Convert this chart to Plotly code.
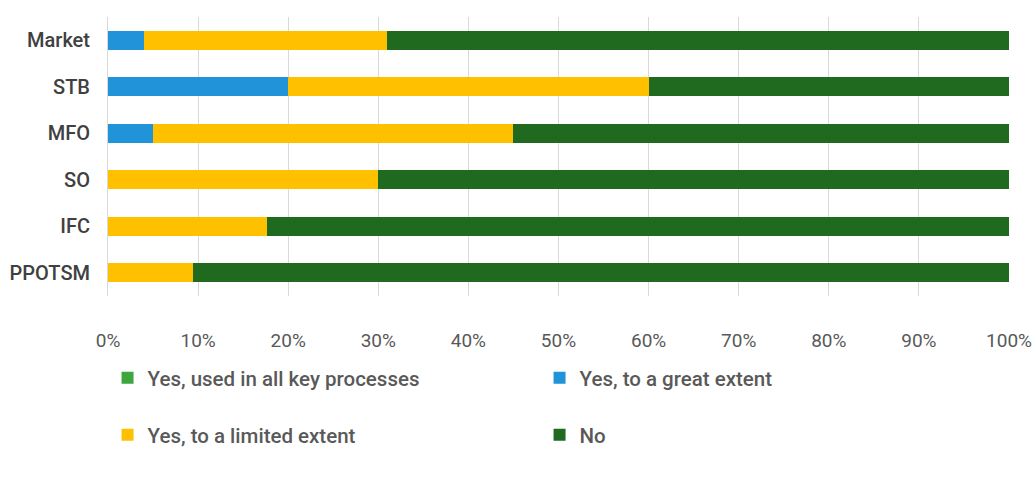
import plotly.graph_objects as go

# Survey results by segment (percent of respondents)
categories = ["Market", "STB", "MFO", "SO", "IFC", "PPOTSM"]
all_key_processes = [0, 0, 0, 0, 0, 0]
great_extent = [4, 20, 5, 0, 0, 0]
limited_extent = [27, 40, 40, 30, 17.6, 9.4]
no_use = [69, 40, 55, 70, 82.4, 90.6]
x_ticks = [0, 10, 20, 30, 40, 50, 60, 70, 80, 90, 100]
x_tick_labels = [f"{t}%" for t in x_ticks]

FONT = "Roboto, Liberation Sans, sans-serif"
TEXT = "#595959"

series = [
    ("Yes, used in all key processes", all_key_processes, "#3da63d", "legend"),
    ("Yes, to a great extent", great_extent, "#2193d8", "legend"),
    ("Yes, to a limited extent", limited_extent, "#ffc000", "legend2"),
    ("No", no_use, "#1f6a1f", "legend2"),
]

fig = go.Figure()
for name, vals, color, lg in series:
    fig.add_trace(go.Bar(
        y=categories, x=vals, name=name, orientation="h",
        marker=dict(color=color, line=dict(width=0)),
        legend=lg,
    ))

legend_common = dict(
    orientation="h", xanchor="left", yanchor="middle",
    font=dict(family=FONT, size=20.5, color=TEXT, weight=500),
    entrywidth=387, entrywidthmode="pixels",
    itemwidth=30, bgcolor="rgba(0,0,0,0)", traceorder="normal",
)

fig.update_layout(
    barmode="stack",
    bargap=0.6,
    width=1035, height=479,
    margin=dict(l=108, r=26, t=17, b=183, autoexpand=False),
    paper_bgcolor="white", plot_bgcolor="white",
    showlegend=True,
    legend=dict(x=-0.0005, y=-0.294, **legend_common),
    legend2=dict(x=-0.0005, y=-0.498, **legend_common),
    xaxis=dict(
        range=[0, 100], tickvals=x_ticks, ticktext=x_tick_labels,
        showgrid=True, gridcolor="#d9d9d9", gridwidth=1,
        zeroline=False, showline=False, automargin=False,
        tickfont=dict(family=FONT, size=19, color=TEXT),
        ticklabelstandoff=31,
    ),
    yaxis=dict(
        autorange="reversed", showgrid=False, zeroline=False,
        showline=True, linecolor="#d9d9d9", automargin=False,
        tickfont=dict(family=FONT, size=20, color="#404040", weight=500),
        ticklabelstandoff=13,
    ),
)

fig.write_html("out.html")
